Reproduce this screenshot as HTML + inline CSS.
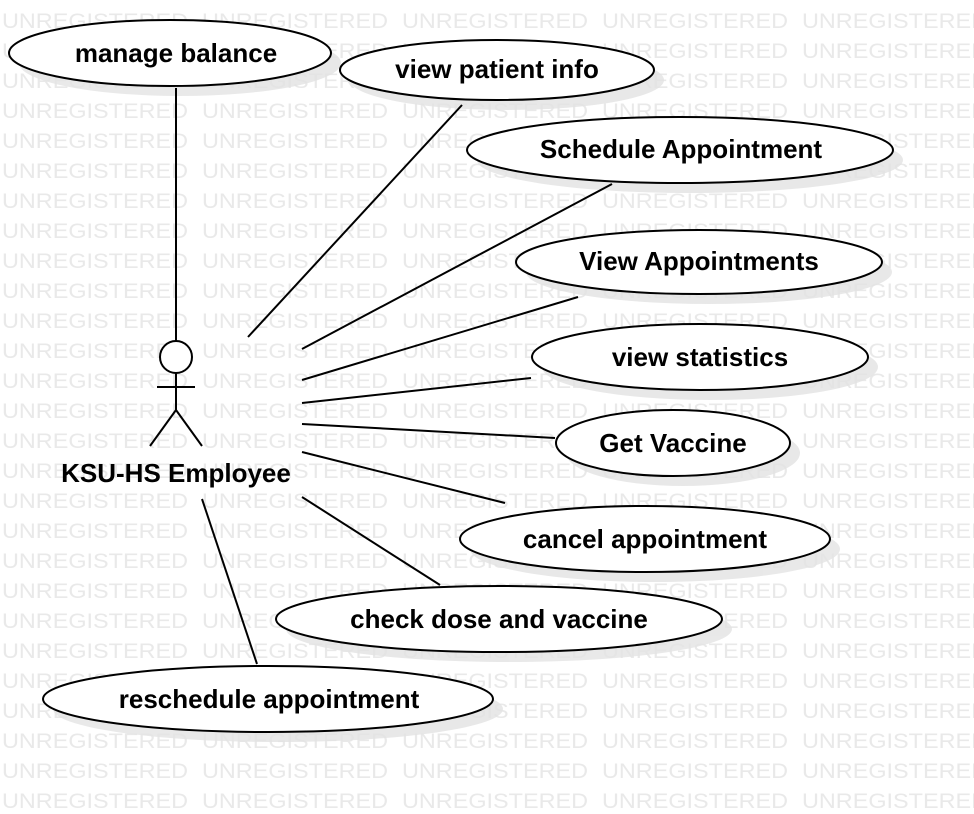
<!DOCTYPE html>
<html><head><meta charset="utf-8"><style>
body{margin:0;background:#fff;}
svg{display:block}
.wm{font-family:"Liberation Sans",sans-serif;font-size:21px;fill:#e9e9e9}
.t{font-family:"Liberation Sans",sans-serif;font-size:26px;font-weight:bold;fill:#000;text-anchor:middle}
</style></head><body>
<svg width="974" height="814" viewBox="0 0 974 814" xmlns="http://www.w3.org/2000/svg">
<defs>
<pattern id="p" x="0" y="0" width="200" height="30" patternUnits="userSpaceOnUse">
<text class="wm" x="2" y="28" textLength="186" lengthAdjust="spacingAndGlyphs">UNREGISTERED</text>
</pattern>
</defs>
<rect x="0" y="0" width="974" height="814" fill="url(#p)"/>
<g fill="#e3e3e3" opacity="0.8">
<ellipse cx="180" cy="63" rx="161" ry="33"/>
<ellipse cx="507" cy="80" rx="157" ry="30"/>
<ellipse cx="690" cy="160" rx="213" ry="33"/>
<ellipse cx="709" cy="272" rx="183" ry="32"/>
<ellipse cx="710" cy="367" rx="168" ry="33"/>
<ellipse cx="683" cy="453" rx="117" ry="33"/>
<ellipse cx="655" cy="549" rx="185" ry="33"/>
<ellipse cx="509" cy="629" rx="223" ry="33"/>
<ellipse cx="278" cy="709" rx="225" ry="33"/>
</g>
<g stroke="#000" stroke-width="2" fill="none">
<line x1="176" y1="88" x2="176" y2="341"/>
<line x1="248" y1="337" x2="462" y2="105"/>
<line x1="302" y1="349" x2="612" y2="184"/>
<line x1="302" y1="380" x2="578" y2="297"/>
<line x1="302" y1="403" x2="531" y2="378"/>
<line x1="302" y1="424" x2="555" y2="438"/>
<line x1="302" y1="452" x2="505" y2="503"/>
<line x1="302" y1="497" x2="440" y2="585"/>
<line x1="202" y1="499" x2="257" y2="664"/>
<circle cx="176" cy="357" r="16" fill="#fff"/>
<line x1="176" y1="373" x2="176" y2="410"/>
<line x1="157" y1="387" x2="195" y2="387"/>
<line x1="176" y1="410" x2="150" y2="446"/>
<line x1="176" y1="410" x2="202" y2="446"/>
</g>
<g fill="#fff" stroke="#000" stroke-width="2">
<ellipse cx="170" cy="53" rx="161" ry="33"/>
<ellipse cx="497" cy="70" rx="157" ry="30"/>
<ellipse cx="680" cy="150" rx="213" ry="33"/>
<ellipse cx="699" cy="262" rx="183" ry="32"/>
<ellipse cx="700" cy="357" rx="168" ry="33"/>
<ellipse cx="673" cy="443" rx="117" ry="33"/>
<ellipse cx="645" cy="539" rx="185" ry="33"/>
<ellipse cx="499" cy="619" rx="223" ry="33"/>
<ellipse cx="268" cy="699" rx="225" ry="33"/>
</g>
<g class="t">
<text x="176" y="62">manage balance</text>
<text x="497" y="78">view patient info</text>
<text x="681" y="158">Schedule Appointment</text>
<text x="699" y="270">View Appointments</text>
<text x="700" y="366">view statistics</text>
<text x="673" y="452">Get Vaccine</text>
<text x="645" y="548">cancel appointment</text>
<text x="499" y="628">check dose and vaccine</text>
<text x="269" y="708">reschedule appointment</text>
<text x="176" y="482">KSU-HS Employee</text>
</g>
</svg>
</body></html>
